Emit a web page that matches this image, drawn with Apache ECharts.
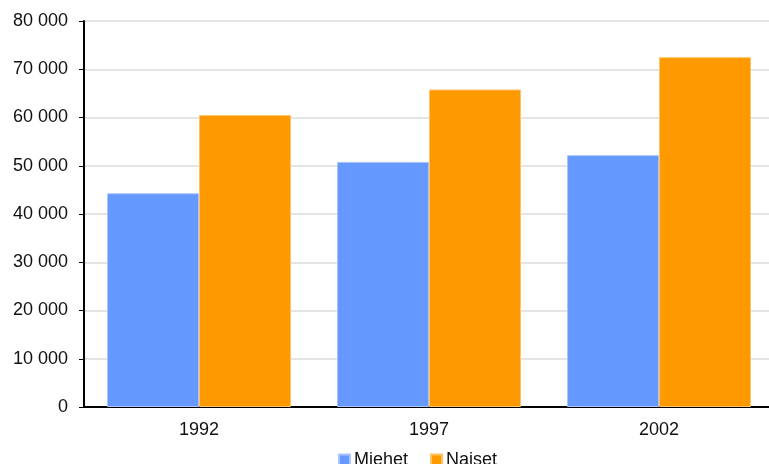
<!DOCTYPE html>
<html>
<head>
<meta charset="utf-8">
<script src="https://cdn.jsdelivr.net/npm/echarts@6/dist/echarts.min.js"></script>
<style>
html,body{margin:0;padding:0;background:#fff;overflow:hidden;}
#chart{width:774px;height:464px;}
</style>
</head>
<body>
<div id="chart"></div>
<script>
var categories = ['1992', '1997', '2002'];
var seriesNames = ['Miehet', 'Naiset'];
var miehet = [44300, 50800, 52200];
var naiset = [60500, 65800, 72500];
var yTicks = [0, 10000, 20000, 30000, 40000, 50000, 60000, 70000, 80000];

var fontFamily = '"Liberation Sans", Arial, sans-serif';
var chart = echarts.init(document.getElementById('chart'), null, {renderer: 'canvas'});
chart.setOption({
  animation: false,
  backgroundColor: '#ffffff',
  grid: {left: 84, top: 21, right: 0, height: 386, containLabel: false},
  legend: {
    data: seriesNames,
    left: 333, top: 446,
    itemWidth: 11, itemHeight: 11, itemGap: 22,
    icon: 'rect',
    textStyle: {fontFamily: fontFamily, fontSize: 18, color: '#111', padding: [0, 0, 0, -1]}
  },
  xAxis: {
    type: 'category',
    data: categories,
    axisLine: {lineStyle: {color: '#000', width: 2}},
    axisTick: {show: false},
    axisLabel: {fontFamily: fontFamily, fontSize: 18, color: '#111', margin: 14}
  },
  yAxis: {
    type: 'value',
    min: yTicks[0], max: yTicks[yTicks.length - 1], interval: 10000,
    axisLine: {show: true, lineStyle: {color: '#000', width: 2}},
    axisTick: {show: true, length: 5, lineStyle: {color: '#000', width: 1}},
    splitLine: {lineStyle: {color: '#dcdcdc', width: 1.5}},
    axisLabel: {
      fontFamily: fontFamily, fontSize: 18, color: '#111', margin: 16,
      formatter: function (v) { return String(v).replace(/\B(?=(\d{3})+(?!\d))/g, ' '); }
    }
  },
  series: [
    {name: seriesNames[0], type: 'bar', data: miehet, barWidth: 92, barGap: '0%',
     itemStyle: {color: '#6699FF', borderColor: '#aac4ff', borderWidth: 1}},
    {name: seriesNames[1], type: 'bar', data: naiset, barWidth: 92, barGap: '0%',
     itemStyle: {color: '#FF9900', borderColor: '#ffc366', borderWidth: 1}}
  ]
});
</script>
</body>
</html>
